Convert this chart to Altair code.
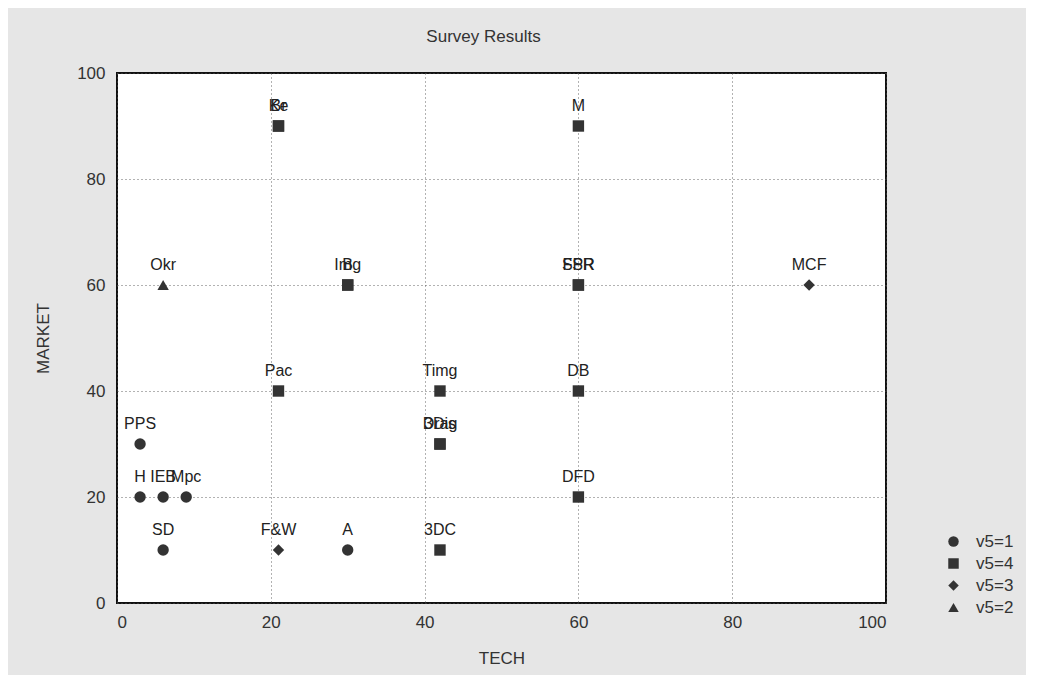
import altair as alt
import pandas as pd

labels = ["Br", "Ke", "M", "Okr", "Img", "B", "FSR", "SPR", "MCF", "Pac", "Timg", "DB",
          "3Dis", "Drag", "PPS", "H", "IEB", "Mpc", "DFD", "SD", "F&W", "A", "3DC"]
tech = [21, 21, 60, 6, 30, 30, 60, 60, 90, 21, 42, 60, 42, 42, 3, 3, 6, 9, 60, 6, 21, 30, 42]
market = [90, 90, 90, 60, 60, 60, 60, 60, 60, 40, 40, 40, 30, 30, 30, 20, 20, 20, 20, 10, 10, 10, 10]
group = ["v5=4", "v5=4", "v5=4", "v5=2", "v5=4", "v5=4", "v5=4", "v5=4", "v5=3", "v5=4", "v5=4", "v5=4",
         "v5=4", "v5=4", "v5=1", "v5=1", "v5=1", "v5=1", "v5=4", "v5=1", "v5=3", "v5=1", "v5=4"]

legend_order = ["v5=1", "v5=4", "v5=3", "v5=2"]
legend_shapes = ["circle", "square", "diamond", "triangle-up"]
axis_ticks = [0, 20, 40, 60, 80, 100]

df = pd.DataFrame({"label": labels, "TECH": tech, "MARKET": market, "group": group})

FONT = "Liberation Sans"

x = alt.X("TECH:Q", title="TECH", scale=alt.Scale(domain=[0, 100], nice=False),
          axis=alt.Axis(values=axis_ticks, grid=True, gridDash=[1, 3], gridColor="#555",
                        gridOpacity=0.9, ticks=False, domain=False, labelFontSize=17,
                        labelColor="#333", labelPadding=11, titleFontSize=17,
                        titleColor="#333", titleFontWeight="normal", titlePadding=20,
                        labelFont=FONT, titleFont=FONT))
y = alt.Y("MARKET:Q", title="MARKET", scale=alt.Scale(domain=[0, 100], nice=False),
          axis=alt.Axis(values=axis_ticks, grid=True, gridDash=[1, 3], gridColor="#555",
                        gridOpacity=0.9, ticks=False, domain=False, labelFontSize=17,
                        labelColor="#333", labelPadding=12, titleFontSize=17,
                        titleColor="#333", titleFontWeight="normal", titlePadding=24,
                        labelFont=FONT, titleFont=FONT))

points = alt.Chart(df).mark_point(filled=True, opacity=1, size=130).encode(
    x=x, y=y,
    shape=alt.Shape("group:N", scale=alt.Scale(domain=legend_order, range=legend_shapes),
                    legend=alt.Legend(title=None, orient="none", legendX=828, legendY=460,
                                      labelFontSize=17, labelColor="#333", labelFont=FONT,
                                      symbolFillColor="#333", symbolStrokeColor="#333",
                                      symbolType="circle",
                                      symbolSize=110, rowPadding=4, labelOffset=14)),
    color=alt.value("#333"),
)

text = alt.Chart(df).mark_text(dy=-20, fontSize=16, color="#222", font=FONT).encode(
    x="TECH:Q", y="MARKET:Q", text="label:N"
)

chart = alt.layer(points, text).properties(
    width=769, height=530,
    title=alt.TitleParams("Survey Results", fontSize=17, font=FONT, fontWeight="normal",
                          color="#333", offset=18, dx=-18),
    padding={"left": 109, "top": 65, "right": 140, "bottom": 72},
    autosize=alt.AutoSizeParams(type="none"),
    background="#e6e6e6",
).configure_view(
    fill="white", stroke="#111", strokeWidth=2
)

chart.save("out.html", embed_options={"renderer": "svg", "actions": False})
